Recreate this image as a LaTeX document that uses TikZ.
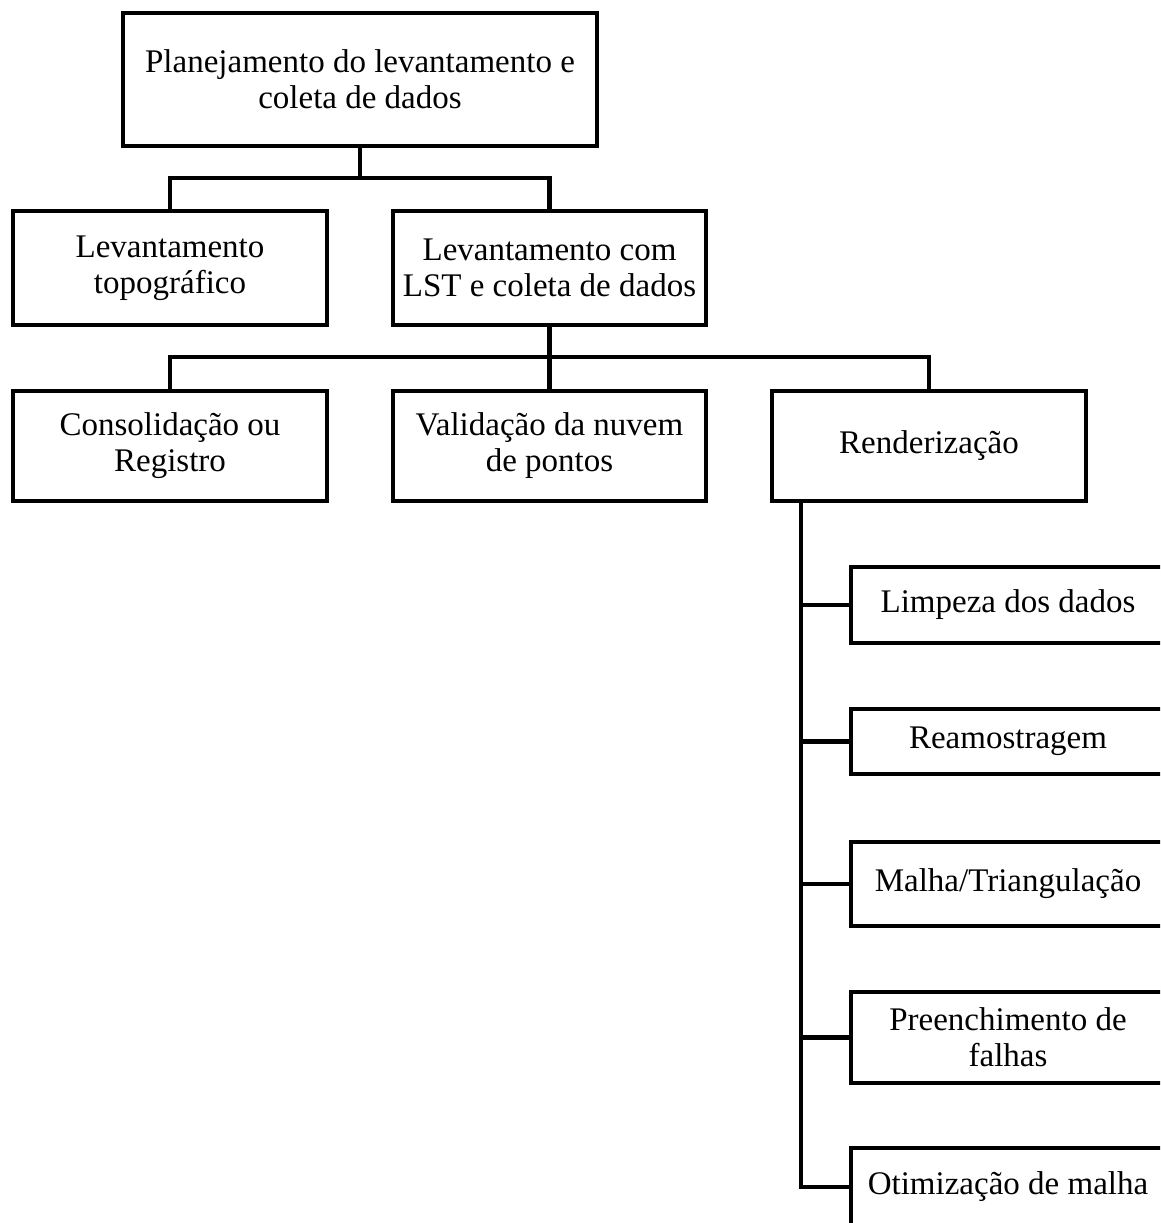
\documentclass[tikz,border=0pt]{standalone}
\definecolor{boxline}{RGB}{0,0,0}
\usepackage{fontspec}
\setmainfont{Liberation Serif}
\usepackage{tikz}
\usetikzlibrary{positioning}
\tikzset{
  stagebox/.style={draw=boxline,line width=4pt,fill=white,inner sep=2pt,
    minimum width=314pt,align=center,font=\fontsize{33}{36}\selectfont},
  linkline/.style={draw=boxline,line width=4.5pt}
}

\begin{document}
\begin{tikzpicture}[x=1pt,y=-1pt]
    \clip (0,0) rectangle (1160,1223);
    \fill[white] (0,0) rectangle (1160,1223);
    % first level
    \node[stagebox,minimum width=474pt,minimum height=133pt] (plan) at (360,79.5)
      {Planejamento do levantamento e\\coleta de dados};
    \node[stagebox,minimum height=114pt] (topo) at (170,268)
      {Levantamento\\topográfico};
    \node[stagebox,minimum width=313pt,minimum height=114pt] (lst) at (549.5,268)
      {Levantamento com\\LST e coleta de dados};
    % second level
    \node[stagebox,minimum height=110pt] (cons) at (170,446)
      {Consolidação ou\\Registro};
    \node[stagebox,minimum width=313pt,minimum height=110pt] (valid) at (549.5,446)
      {Validação da nuvem\\de pontos};
    \node[stagebox,minimum height=110pt] (rend) at (929,446) {Renderização};
    % rendering steps
    \node[stagebox,minimum height=76pt] (limp) at (1008,605) {Limpeza dos dados};
    \node[stagebox,minimum height=65pt] (ream) at (1008,741.5) {Reamostragem};
    \node[stagebox,minimum height=84pt] (malha) at (1008,884) {Malha/Triangulação};
    \node[stagebox,minimum height=91pt] (preen) at (1008,1037.5)
      {Preenchimento de\\falhas};
    \node[stagebox,minimum height=78pt] (otim) at (1008,1187) {Otimização de malha};
    % connectors
    \coordinate (busA) at (360,178);
    \coordinate (busB) at (549.5,357);
    \coordinate (spine) at ([xshift=31pt]rend.south west);
    \draw[linkline] (plan.south) -- (busA);
    \draw[linkline] (topo.north) |- (busA) -| (lst.north);
    \draw[linkline] (lst.south) -- (valid.north);
    \draw[linkline] (cons.north) |- (busB) -| (rend.north);
    \draw[linkline] (spine) |- (otim.west);
    \foreach \step in {limp,ream,malha,preen}
      \draw[linkline] (spine |- \step.west) -- (\step.west);
  \end{tikzpicture}
\end{document}
